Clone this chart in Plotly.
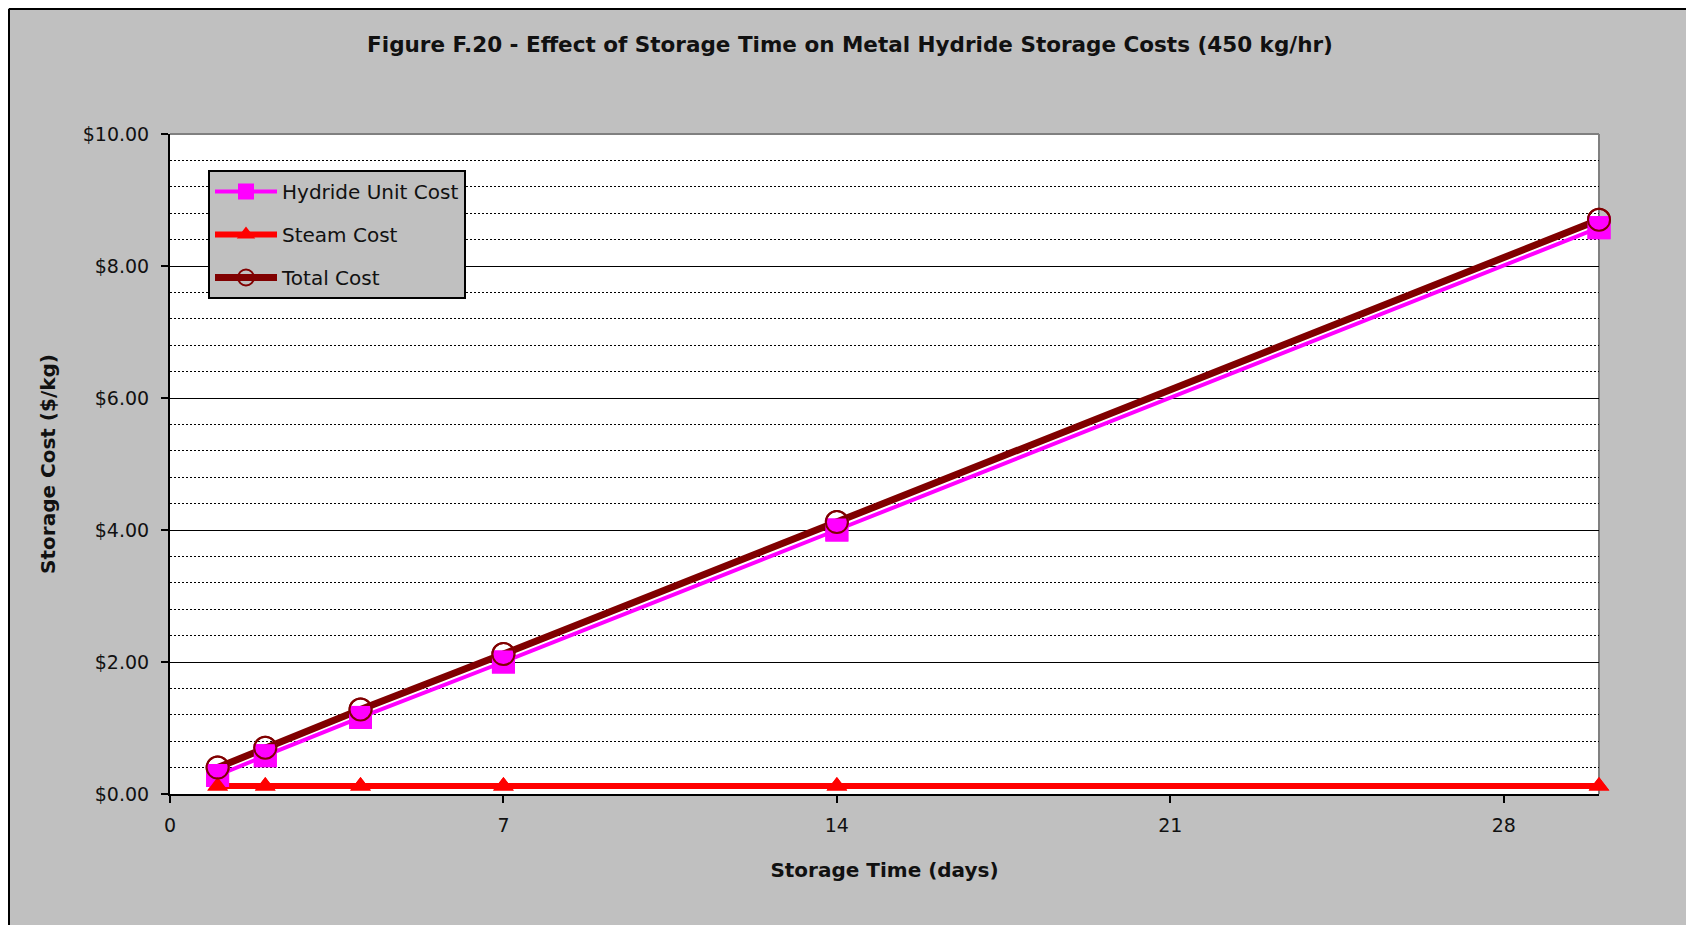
import plotly.graph_objects as go

# ---- data ----
days = [1, 2, 4, 7, 14, 30]
hydride_cost = [0.28, 0.58, 1.16, 2.00, 4.00, 8.58]
steam_cost = [0.12, 0.12, 0.12, 0.12, 0.12, 0.12]
total_cost = [0.40, 0.70, 1.28, 2.12, 4.12, 8.70]
x_ticks = [0, 7, 14, 21, 28]

# page offset from the default body margin of the html page
OFF = 8
PAGE_W, PAGE_H = 1694, 925
W, H = PAGE_W - OFF, PAGE_H - OFF
# plot area in page coordinates
PL, PR, PT, PB = 170, 1599, 134, 794
ML, MR, MT, MB = PL - OFF, W - (PR - OFF), PT - OFF, H - (PB - OFF)
PW, PH = PR - PL, PB - PT

MAGENTA = "#FF00FF"
RED = "#FF0000"
DARKRED = "#800000"
GRAY_BG = "#C0C0C0"
FONT = "DejaVu Sans"
TXT = "#111111"

fig = go.Figure()

styles = [
    ("Hydride Unit Cost", hydride_cost, MAGENTA, 4,
     dict(symbol="square", size=23, color=MAGENTA)),
    ("Steam Cost", steam_cost, RED, 6,
     dict(symbol="triangle-up", size=18, color=RED)),
    ("Total Cost", total_cost, DARKRED, 7,
     dict(symbol="circle", size=22, color="rgba(0,0,0,0)",
          line=dict(color=DARKRED, width=2))),
]

# lines (with legend entries) first
for i, (name, ys, col, lw, mk) in enumerate(styles):
    fig.add_trace(go.Scatter(
        x=days, y=ys, name=name, mode="lines+markers",
        line=dict(color=col, width=lw), marker=mk,
        legendgroup=f"g{i}", cliponaxis=False))
# markers on top of all lines
for i, (name, ys, col, lw, mk) in enumerate(styles):
    fig.add_trace(go.Scatter(
        x=days, y=ys, name=name, mode="markers", marker=mk,
        showlegend=False, legendgroup=f"g{i}", cliponaxis=False,
        hoverinfo="skip"))

def px_x(px):  # page x -> paper
    return (px - PL) / PW

def px_y(py):  # page y -> paper
    return (PB - py) / PH

shapes = [
    # gray frame top and right of plot area
    dict(type="line", xref="paper", yref="paper", x0=0, x1=1, y0=1, y1=1,
         line=dict(color="#808080", width=2), layer="between"),
    dict(type="line", xref="paper", yref="paper", x0=1, x1=1, y0=0, y1=1,
         line=dict(color="#808080", width=2), layer="between"),
    # outer chart border (top and left)
    dict(type="line", xref="paper", yref="paper", x0=px_x(OFF + 1), x1=px_x(PAGE_W + 20),
         y0=px_y(OFF + 1), y1=px_y(OFF + 1), line=dict(color="black", width=2), layer="above"),
    dict(type="line", xref="paper", yref="paper", x0=px_x(OFF + 1), x1=px_x(OFF + 1),
         y0=px_y(OFF + 1), y1=px_y(PAGE_H + 20), line=dict(color="black", width=2), layer="above"),
]

fig.update_layout(
    width=W, height=H,
    margin=dict(l=ML, r=MR, t=MT, b=MB, autoexpand=False),
    paper_bgcolor=GRAY_BG, plot_bgcolor="white",
    font=dict(family=FONT, color=TXT, size=19),
    title=dict(text="<b>Figure F.20 - Effect of Storage Time on Metal Hydride Storage Costs (450 kg/hr)</b>",
               x=(850 - OFF) / W, xref="container", xanchor="center",
               y=1 - (44 - OFF) / H, yref="container", yanchor="middle",
               font=dict(family=FONT, size=21.5, color=TXT)),
    showlegend=True,
    legend=dict(x=px_x(208), y=px_y(170), xanchor="left", yanchor="top",
                bgcolor=GRAY_BG, bordercolor="black", borderwidth=2,
                font=dict(family=FONT, size=20, color=TXT),
                tracegroupgap=14, itemwidth=62),
    shapes=shapes,
    hovermode=False,
)

fig.update_xaxes(
    range=[0, 30], tickvals=x_ticks, ticktext=[str(v) for v in x_ticks],
    showgrid=False, zeroline=False,
    showline=True, linecolor="black", linewidth=2,
    ticks="outside", ticklen=7, tickwidth=2, tickcolor="black",
    tickfont=dict(family=FONT, size=19, color=TXT),
    ticklabelstandoff=6,
    title=dict(text="<b>Storage Time (days)</b>",
               font=dict(family=FONT, size=20, color=TXT), standoff=28),
    automargin=False,
)

fig.update_yaxes(
    range=[0, 10], dtick=2, tick0=0, tickformat="$.2f",
    showgrid=True, gridcolor="black", gridwidth=1,
    minor=dict(dtick=0.4, tick0=0, showgrid=True, gridcolor="black",
               gridwidth=1, griddash="2px,2px"),
    zeroline=False,
    showline=True, linecolor="black", linewidth=2,
    ticks="outside", ticklen=7, tickwidth=2, tickcolor="black",
    tickfont=dict(family=FONT, size=19, color=TXT),
    ticklabelstandoff=8,
    title=dict(text="<b>Storage Cost ($/kg)</b>",
               font=dict(family=FONT, size=20, color=TXT), standoff=22),
    automargin=False,
)

fig.write_html("out.html")
